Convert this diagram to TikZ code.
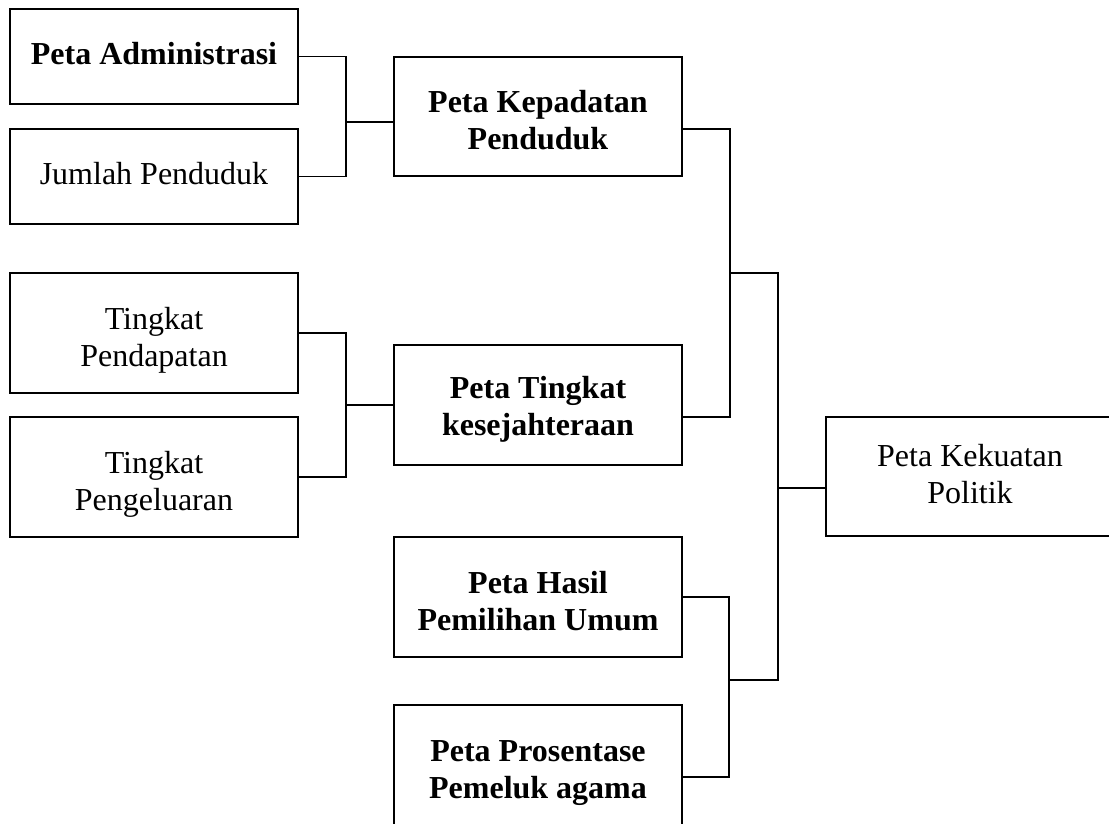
\documentclass[tikz,border=0pt]{standalone}
\usepackage{fontspec}
\setmainfont{Liberation Serif}
\newcommand{\bxtext}[2]{\raisebox{-#1pt}[\height][\depth]{\begin{tabular}{@{}c@{}}#2\end{tabular}}}
\begin{document}
\begin{tikzpicture}[x=1pt,y=-1pt,
  box/.style={draw, line width=1.6pt, anchor=north west, outer sep=0pt, inner sep=0pt,
    minimum width=288pt, font=\fontsize{32}{37}\selectfont},
  bbox/.style={box, font=\fontsize{32}{37}\selectfont\bfseries},
  conn/.style={line width=1.6pt, line cap=rect}]
\useasboundingbox (0,0) rectangle (1109,824);
\clip (0,0) rectangle (1109,824);
\fill[white] (0,0) rectangle (1109,824);
% left column
\node[bbox, minimum height=95pt] (A) at (10,9) {\bxtext{1}{Peta Administrasi}};
\node[box, minimum height=95pt] (B) at (10,129) {\bxtext{1}{Jumlah Penduduk}};
\node[box, minimum height=120pt] (P1) at (10,273) {\bxtext{8}{Tingkat\\Pendapatan}};
\node[box, minimum height=120pt] (P2) at (10,417) {\bxtext{7.6}{Tingkat\\Pengeluaran}};
% middle column
\node[bbox, minimum height=119pt] (C) at (394,57) {\bxtext{7.3}{Peta Kepadatan\\Penduduk}};
\node[bbox, minimum height=120pt] (D) at (394,345) {\bxtext{4.4}{Peta Tingkat\\kesejahteraan}};
\node[bbox, minimum height=120pt] (E) at (394,537) {\bxtext{7.4}{Peta Hasil\\Pemilihan Umum}};
\node[bbox, minimum height=121pt] (F) at (394,705) {\bxtext{6.6}{Peta Prosentase\\Pemeluk agama}};
% right
\node[box, minimum height=119pt] (G) at (826,417) {\bxtext{1.3}{Peta Kekuatan\\Politik}};
% junction coordinates
\coordinate (J1) at (346,122);
\coordinate (J2) at (346,405);
\coordinate (J3) at (730,273);
\coordinate (J4) at (729,680);
\coordinate (J5) at (778,488);
% connectors
\draw[conn] (A.east) -| (J1) |- (B.east);
\draw[conn] (J1) -- (C.west |- J1);
\draw[conn] (P1.east) -| (J2) |- (P2.east);
\draw[conn] (J2) -- (D.west |- J2);
\draw[conn] ([yshift=-12.5pt]C.east) -| (J3) |- ([yshift=-12pt]D.east);
\draw[conn] (E.east) -| (J4) |- ([yshift=-11.5pt]F.east);
\draw[conn] (J3) -| (J5) |- (J4);
\draw[conn] (J5) -- (G.west |- J5);
\end{tikzpicture}
\end{document}
